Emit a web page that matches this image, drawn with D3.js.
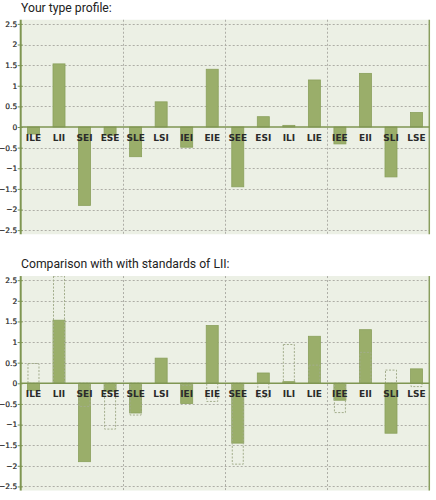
<!DOCTYPE html>
<html><head><meta charset="utf-8">
<script src="https://cdn.jsdelivr.net/npm/d3@7"></script>
<style>
body{margin:0;background:#fff;}
svg{display:block;}
</style></head>
<body>
<svg id="c" width="436" height="500"></svg>
<script>
const categories = ["ILE","LII","SEI","ESE","SLE","LSI","IEI","EIE","SEE","ESI","ILI","LIE","IEE","EII","SLI","LSE"];
const profileValues = [-0.17,1.53,-1.9,-0.2,-0.72,0.61,-0.49,1.4,-1.45,0.25,0.04,1.14,-0.41,1.3,-1.21,0.35];
const standardValues = [0.48,2.6,-0.56,-1.11,-0.77,null,-0.05,-0.44,-1.96,-0.34,0.94,0.44,-0.71,0.75,0.32,-0.08];
const yTicks = [2.5,2,1.5,1,0.5,0,-0.5,-1,-1.5,-2,-2.5];
const titles = ["Your type profile:","Comparison with with standards of LII:"];

const svg = d3.select("#c");
const x = d3.scaleBand().domain(categories).range([20.7,429.3]).padding(0);
const barW = 12;

function drawChart(g, zeroY, title, showStd){
  const y = d3.scaleLinear().domain([-2.5,2.5]).range([zeroY+2.5*41.25, zeroY-2.5*41.25]);
  const top = y(2.6), bottom = y(-2.6);
  const left = 20.7, right = 429.3;
  const clipId = "clip"+Math.round(zeroY);
  g.append("clipPath").attr("id",clipId).append("rect")
    .attr("x",left).attr("y",top).attr("width",right-left).attr("height",bottom-top);
  g.append("text").attr("x",21).attr("y",top-8)
    .attr("font-family","Roboto, 'Noto Sans', sans-serif").attr("font-size",12.2)
    .attr("fill","#222").text(title);
  g.append("rect").attr("x",left).attr("y",top).attr("width",right-left).attr("height",bottom-top)
    .attr("fill","#ecf0e5");
  // horizontal grid
  g.selectAll(".hg").data(yTicks.filter(d=>d!==0)).join("line")
    .attr("x1",left).attr("x2",right).attr("y1",d=>Math.round(y(d))+0.5).attr("y2",d=>Math.round(y(d))+0.5)
    .attr("stroke","#aeaea6").attr("stroke-width",1).attr("stroke-dasharray","2,2");
  // vertical group separators
  [4,8,12].forEach(i=>{
    const xv = Math.round(x(categories[i]))+0.5;
    g.append("line").attr("x1",xv).attr("x2",xv).attr("y1",top).attr("y2",bottom+1)
      .attr("stroke","#aeaea6").attr("stroke-dasharray","2,2");
  });
  // right border
  g.append("line").attr("x1",right).attr("x2",right).attr("y1",top).attr("y2",bottom)
    .attr("stroke","#8a9e5e").attr("stroke-width",1.5);
  const cg = g.append("g").attr("clip-path",`url(#${clipId})`);
  // bars
  cg.selectAll(".bar").data(profileValues).join("rect")
    .attr("x",(d,i)=>x(categories[i])+x.bandwidth()/2-barW/2)
    .attr("y",d=>y(Math.max(0,d)))
    .attr("width",barW)
    .attr("height",d=>Math.abs(y(d)-y(0)))
    .attr("fill","#9aae6a").attr("stroke","#8aa05c").attr("stroke-width",0.8);
  // category labels
  g.selectAll(".cl").data(categories).join("text")
    .attr("x",d=>x(d)+x.bandwidth()/2).attr("y",y(0)+14)
    .attr("text-anchor","middle").attr("font-family","'DejaVu Sans', Verdana, sans-serif")
    .attr("font-size",9).attr("font-weight","bold").attr("fill","#2a2a2a").text(d=>d);
  if(showStd){
    cg.selectAll(".std").data(standardValues.map((v,i)=>({v,i})).filter(d=>d.v!==null)).join("rect")
      .attr("x",d=>x(categories[d.i])+x.bandwidth()/2-barW/2+0.5)
      .attr("y",d=>y(Math.max(0,d.v)))
      .attr("width",barW-1)
      .attr("height",d=>Math.abs(y(d.v)-y(0)))
      .attr("fill","none").attr("stroke","#a3ad8c").attr("stroke-width",1)
      .attr("stroke-dasharray","2,1.5");
  }
  // zero line
  g.append("line").attr("x1",left).attr("x2",right).attr("y1",y(0)).attr("y2",y(0))
    .attr("stroke","#7f9652").attr("stroke-width",1.5);
  // y axis
  const ax = g.append("g").attr("transform",`translate(${left},0)`)
    .call(d3.axisLeft(y).tickValues(yTicks).tickSize(3).tickFormat(d=>d3.format("")(d)).tickPadding(1));
  ax.select(".domain").attr("stroke","#7f9652").attr("stroke-width",2)
    .attr("d",`M0,${top}V${bottom}`);
  ax.selectAll(".tick line").attr("stroke","#7f9652").attr("x2",-3).attr("x1",2);
  ax.selectAll(".tick text").attr("font-family","'DejaVu Sans', Verdana, sans-serif")
    .attr("font-size",7.5).attr("font-weight","normal").attr("fill","#222")
    .attr("stroke","#222").attr("stroke-width",0.2).attr("x",-3.5);
}

drawChart(svg.append("g"), 127, titles[0], false);
drawChart(svg.append("g"), 383.3, titles[1], true);
</script>
</body></html>
